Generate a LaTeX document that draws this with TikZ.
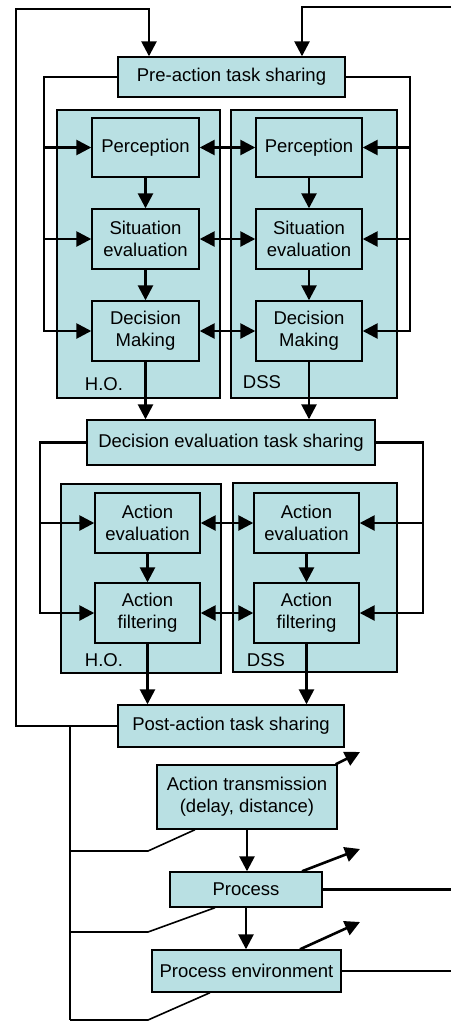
\documentclass[tikz,border=0pt]{standalone}
\usepackage{fontspec}
\setmainfont{Liberation Sans}
\usepackage{tikz}
\usetikzlibrary{arrows.meta}
\definecolor{boxfill}{RGB}{185,224,227}
\tikzset{
box/.style = {rectangle, draw=black, fill=boxfill, line width=1.4pt, align=center, inner sep=0pt, minimum width = #1},
box/.default = 100pt, % width of a task box
group/.style = {rectangle, draw=black, fill=boxfill, line width=1.4pt, minimum width = #1},
arr/.style = {line width=2.6pt, -{Triangle[length=15pt,width=15pt]}},
biarr/.style = {line width=2.6pt, {Triangle[length=15pt,width=15pt]}-{Triangle[length=15pt,width=15pt]}},
wire/.style = {line width=2.6pt},
thinwire/.style = {line width=1.6pt},
}

\begin{document}
\begin{tikzpicture}[x=1pt, y=-1pt, font=\fontsize{18.5}{22.3}\selectfont]
\useasboundingbox (0,0) rectangle (451,1021);

    % H.O. and DSS frames
    \node[group=163pt, minimum height=288pt] (hoA) at (138.5,254) {};
    \node[group=166pt, minimum height=288pt] (dssA) at (314,254) {};
    \node[group=160pt, minimum height=189pt] (hoB) at (141,578.5) {};
    \node[group=164pt, minimum height=189pt] (dssB) at (315,577.5) {};
    \node (hoAlbl) at (104,384) {H.O.};
    \node (dssAlbl) at (262,382) {DSS};
    \node (hoBlbl) at (104,660) {H.O.};
    \node (dssBlbl) at (266,660) {DSS};

    \node[box=227pt, minimum height=40pt] (pre) at (231.5,77) {Pre-action task sharing};
    \node[box=107pt, minimum height=59pt] (per1) at (145.5,147.5) {Perception};
    \node[box=106pt, minimum height=59pt] (per2) at (309,147.5) {Perception};
    \node[box=107pt, minimum height=60pt] (sit1) at (145.5,239) {Situation\\evaluation};
    \node[box=106pt, minimum height=60pt] (sit2) at (309,239) {Situation\\evaluation};
    \node[box=107pt, minimum height=60pt] (dm1) at (145.5,331) {Decision\\Making};
    \node[box=106pt, minimum height=60pt] (dm2) at (309,331) {Decision\\Making};

    \node[box=288pt, minimum height=45pt] (deval) at (231,442.5) {Decision evaluation task sharing};
    \node[box=105pt, minimum height=60pt] (ae1) at (147.5,523) {Action\\evaluation};
    \node[box=105pt, minimum height=60pt] (ae2) at (306.5,523) {Action\\evaluation};
    \node[box=105pt, minimum height=60pt] (af1) at (147.5,613) {Action\\filtering};
    \node[box=105pt, minimum height=60pt] (af2) at (306.5,613) {Action\\filtering};

    \node[box=226pt, minimum height=42pt] (post) at (231,726) {Post-action task sharing};
    \node[box=180pt, minimum height=64pt] (trans) at (247,797) {Action transmission\\(delay, distance)};
    \node[box=152pt, minimum height=35pt] (proc) at (246,889.5) {Process};
    \node[box=189pt, minimum height=42pt] (env) at (246.5,971) {Process environment};

\coordinate (inL) at (16,9);
\coordinate (inR) at (451,7);
\coordinate (busA) at (44,0);
\coordinate (busB) at (410,0);
\coordinate (busC) at (40,0);
\coordinate (busD) at (423,0);
\coordinate (busE) at (70,0);
\coordinate (kA) at (148,851);
\coordinate (kB) at (148,932);
\coordinate (kC) at (148,1020);
\coordinate (outA) at (360,752);
\coordinate (outB) at (360,849);
\coordinate (outC) at (360,922);
\coordinate (outD) at (451,889.5);
\coordinate (outE) at (451,971);

% feedback into pre-action sharing
\draw[arr] (post.west) -| (inL) -| ([xshift=-82.5pt]pre.north);
\draw[arr] (inR) -| ([xshift=70.5pt]pre.north);

% sharing buses
\draw[arr] (pre.west) -| (busA |- dm1.west) -- (dm1.west);
\draw[arr] (busA |- per1.west) -- (per1.west);
\draw[arr] (busA |- sit1.west) -- (sit1.west);
\draw[arr] (pre.east) -| (busB |- dm2.east) -- (dm2.east);
\draw[arr] (busB |- per2.east) -- (per2.east);
\draw[arr] (busB |- sit2.east) -- (sit2.east);
\draw[arr] (deval.west) -| (busC |- af1.west) -- (af1.west);
\draw[arr] (busC |- ae1.west) -- (ae1.west);
\draw[arr] (deval.east) -| (busD |- af2.east) -- (af2.east);
\draw[arr] (busD |- ae2.east) -- (ae2.east);

\foreach \a/\b in {per1/per2, sit1/sit2, dm1/dm2, ae1/ae2, af1/af2}
    \draw[biarr] (\a.east) -- (\b.west);

\draw[arr] (per1) -- (sit1);
\draw[arr] (sit1) -- (dm1);
\draw[arr] (per2) -- (sit2);
\draw[arr] (sit2) -- (dm2);
\draw[arr] (ae1) -- (af1);
\draw[arr] (ae2) -- (af2);
\draw[arr] (dm1.south) -- (dm1.south |- deval.north);
\draw[arr] (dm2.south) -- (dm2.south |- deval.north);
\draw[arr] (af1.south) -- (af1.south |- post.north);
\draw[arr] (af2.south) -- (af2.south |- post.north);
\draw[arr] (trans.south) -- (trans.south |- proc.north);
\draw[arr] (proc.south) -- (proc.south |- env.north);

% outputs
\draw[arr] ([xshift=-2pt]trans.north east) -- (outA);
\draw[arr] ([xshift=56pt]proc.north) -- (outB);
\draw[arr] ([xshift=53.5pt]env.north) -- (outC);
\draw[wire] (proc.east) -- (outD);
\draw[thinwire] (env.east) -- (outE);

% return bus
\draw[thinwire] (busE |- post.west) -- (busE |- kC);
\draw[thinwire] ([xshift=-52pt]trans.south) -- (kA) -- (busE |- kA);
\draw[thinwire] ([xshift=-31pt]proc.south) -- (kB) -- (busE |- kB);
\draw[thinwire] ([xshift=-36.5pt]env.south) -- (kC) -- (busE |- kC);

\end{tikzpicture}
\end{document}
